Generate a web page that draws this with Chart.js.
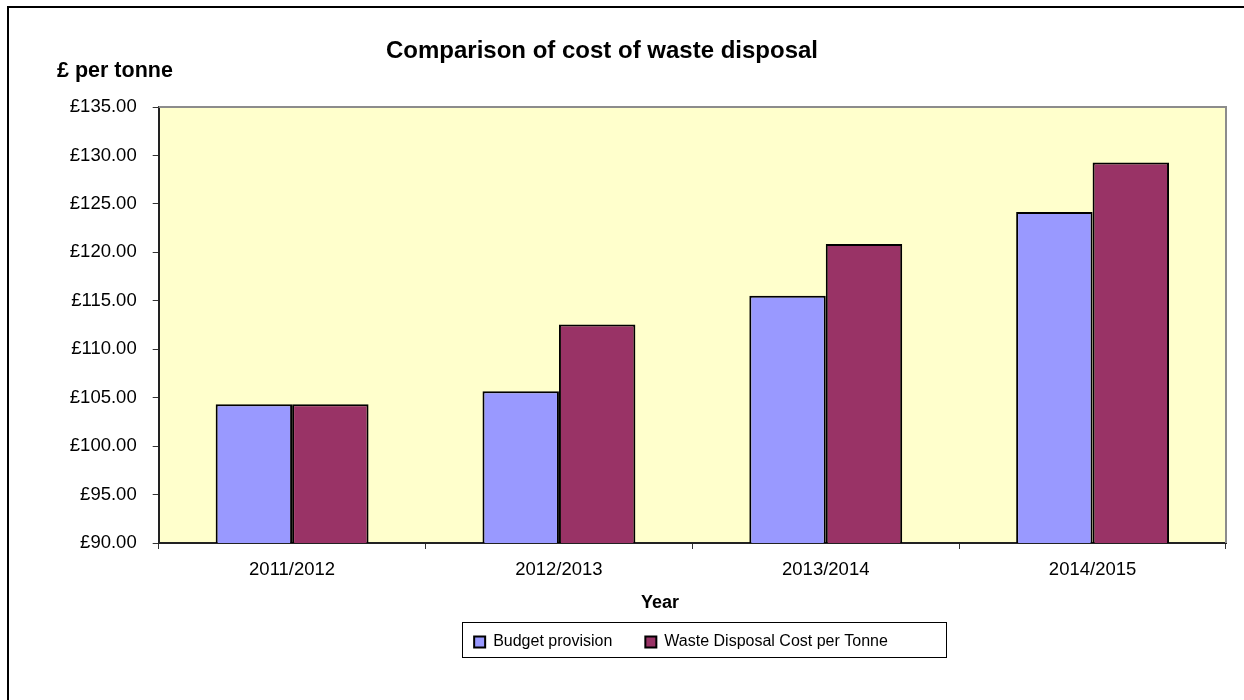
<!DOCTYPE html>
<html>
<head>
<meta charset="utf-8">
<title>Comparison of cost of waste disposal</title>
<script src="https://cdn.jsdelivr.net/npm/chart.js"></script>
<style>
  html, body { margin: 0; padding: 0; background: #fff; overflow: hidden; }
  #wrap { position: relative; width: 1244px; height: 700px; }
</style>
</head>
<body>
<div id="wrap">
  <canvas id="myChart" width="1244" height="700"></canvas>
</div>
<script>
const years = ['2011/2012', '2012/2013', '2013/2014', '2014/2015']
const budget_provision = [104.33, 105.67, 115.52, 124.16]
const disposal_cost = [104.33, 112.56, 120.86, 129.26]
const y_min = 90
const y_max = 135
const y_step = 5

Chart.defaults.font.family = "'Liberation Sans', Arial, sans-serif"
Chart.defaults.color = '#000'

// background of the plot, frame, and the free-standing texts
const decor = {
    id: 'decor',
    afterLayout(chart) {
        // legend sits a little left of the plot centre in the original
        chart.legend.left = 136
    },
    beforeDraw(chart) {
        const {ctx, chartArea: a} = chart
        ctx.save()
        ctx.fillStyle = '#FFFFCC'
        ctx.fillRect(a.left, a.top, a.right - a.left, a.bottom - a.top)
        ctx.restore()
    },
    afterDraw(chart) {
        const {ctx, chartArea: a} = chart
        ctx.save()
        // plot border top/right
        ctx.strokeStyle = '#8c8c8c'
        ctx.lineWidth = 2
        ctx.beginPath()
        ctx.moveTo(a.left, a.top)
        ctx.lineTo(a.right, a.top)
        ctx.lineTo(a.right, a.bottom)
        ctx.stroke()

        // outer frame
        ctx.strokeStyle = '#000'
        ctx.lineWidth = 2
        ctx.beginPath()
        ctx.moveTo(8, 720)
        ctx.lineTo(8, 7)
        ctx.lineTo(1260, 7)
        ctx.stroke()

        // texts
        ctx.fillStyle = '#000'
        ctx.textBaseline = 'alphabetic'
        ctx.textAlign = 'center'
        ctx.font = "bold 24px 'Liberation Sans', Arial, sans-serif"
        ctx.fillText('Comparison of cost of waste disposal', 602, 58)
        ctx.textAlign = 'left'
        ctx.font = "bold 21.5px 'Liberation Sans', Arial, sans-serif"
        ctx.fillText('£ per tonne', 57, 77)
        ctx.textAlign = 'center'
        ctx.font = "bold 18px 'Liberation Sans', Arial, sans-serif"
        ctx.fillText('Year', 660, 608)

        // legend border
        const hb = chart.legend.legendHitBoxes
        if (hb && hb.length) {
            const first = hb[0]
            const last = hb[hb.length - 1]
            const left = first.left - 12
            const right = last.left + last.width + 58
            const top = first.top - 12
            ctx.strokeStyle = '#000'
            ctx.lineWidth = 1
            ctx.strokeRect(Math.round(left) + 0.5, Math.round(top) + 0.5, Math.round(right - left), 35)
        }
        ctx.restore()
    }
}

const ctx = document.getElementById('myChart')

new Chart(ctx, {
    type: 'bar',
    data: {
        labels: years,
        datasets: [{
            label: 'Budget provision',
            data: budget_provision,
            backgroundColor: '#9999FF',
            borderColor: '#000',
            borderWidth: 2
        }, {
            label: 'Waste Disposal Cost per Tonne',
            data: disposal_cost,
            backgroundColor: '#993366',
            borderColor: '#000',
            borderWidth: 2
        }]
    },
    options: {
        responsive: false,
        devicePixelRatio: 1,
        animation: false,
        categoryPercentage: 0.573,
        barPercentage: 1.0,
        layout: {
            padding: { left: 40, top: 107, right: 18, bottom: 40 }
        },
        plugins: {
            title: { display: false },
            tooltip: { enabled: false },
            legend: {
                position: 'bottom',
                fullSize: false,
                labels: {
                    boxWidth: 11,
                    boxHeight: 11,
                    padding: 33,
                    color: '#000',
                    font: { size: 16 }
                }
            }
        },
        scales: {
            x: {
                afterFit: (axis) => { axis.height = 58 },
                grid: {
                    offset: true,
                    drawOnChartArea: false,
                    drawTicks: true,
                    tickLength: 6,
                    color: '#333'
                },
                border: { display: true, color: '#222', width: 2 },
                ticks: {
                    padding: 10,
                    maxRotation: 0,
                    color: '#000',
                    font: { size: 18.5 }
                }
            },
            y: {
                min: y_min,
                max: y_max,
                afterFit: (axis) => { axis.width = 118.7 },
                grid: {
                    drawOnChartArea: false,
                    drawTicks: true,
                    tickLength: 6,
                    color: '#333'
                },
                border: { display: true, color: '#222', width: 2 },
                ticks: {
                    stepSize: y_step,
                    padding: 16,
                    color: '#000',
                    font: { size: 18.5 },
                    callback: (value) => '£' + Number(value).toFixed(2)
                }
            }
        }
    },
    plugins: [decor]
});
</script>
</body>
</html>
